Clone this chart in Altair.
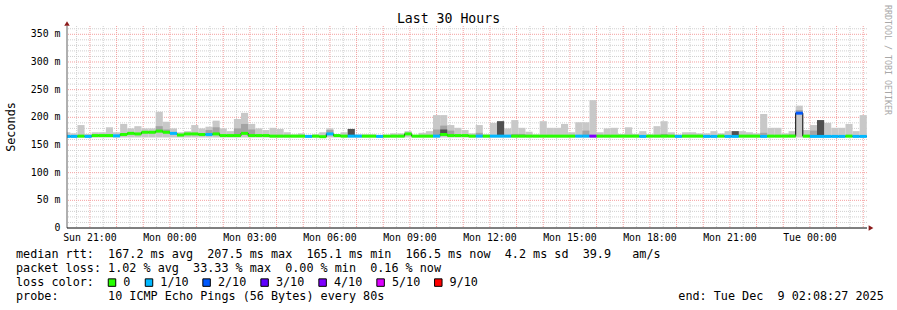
import altair as alt
import pandas as pd

# ---------------- data ----------------
# time in hours since Sun Dec 7 2025 00:00
START_H = 20 + 8 / 60 + 27 / 3600      # Sun 20:08:27
END_H = START_H + 30                   # Tue 02:08:27
STEP_H = 16 / 60                       # 960 s consolidation step
FIRST_BAR_H = 20.0
SMOKE_FLOOR = 163.5

smoke_top = [173, 171, 186, 170, 173, 173, 182, 173, 188, 180,
             184, 180, 180, 210, 192, 180, 173, 175, 186, 180,
             183, 194, 180, 175, 197, 208, 188, 180, 177, 181,
             179, 173, 169, 171, 168, 169, 173, 180, 169, 173,
             179, 169, 169, 169, 168, 167, 171, 171, 175, 168,
             172, 175, 204, 204, 186, 181, 177, 171, 186, 169,
             190, 193, 180, 195, 181, 174, 169, 193, 181, 181,
             188, 173, 191, 191, 231, 173, 180, 181, 170, 182,
             170, 175, 169, 184, 193, 173, 169, 173, 173, 171,
             171, 175, 171, 175, 175, 175, 173, 171, 206, 181,
             181, 171, 175, 221, 177, 186, 195, 190, 181, 181,
             188, 175, 204]

smoke_mid = [None, None, None, None, None, None, None, None, None, None,
             None, None, 175, 184, 178, None, None, None, None, None,
             177, 182, None, None, 180, 188, 178, None, None, None,
             None, None, None, None, None, None, None, 177, None, None,
             None, None, None, None, None, None, None, None, None, None,
             None, None, 178, 185, 176, None, None, None, 172, None,
             None, None, None, 170, 170, None, None, None, None, None,
             None, None, None, 176, None, None, None, None, None, None,
             None, None, None, None, 170, None, None, None, None, None,
             None, None, None, None, None, None, None, None, 172, None,
             None, None, 169, 213, None, 176, None, None, None, None,
             None, None, None]

smoke_dark = [None] * 113
for _i, _v in [(40, 179), (53, 178), (61, 193), (94, 175), (106, 195)]:
    smoke_dark[_i] = _v

median_rtt = [165.5, 165.5, 166, 165.5, 167, 167, 167, 166.5, 169, 171,
              170, 173, 173, 175, 173, 171, 168, 170, 170, 169,
              169, 170, 167, 167, 167, 171, 167, 167, 167, 166,
              166, 166, 166, 166, 165.5, 166, 165, 170, 167, 166,
              166, 166, 166, 166, 165.5, 166, 166, 166, 170, 166,
              166, 166, 166, 169, 167, 167, 167, 166, 166, 166,
              166, 166, 166, 166, 166, 166, 166, 166, 166, 166,
              166, 166, 166, 166, 166, 166, 166, 166, 166, 166,
              166, 165.5, 166, 166, 166, 166, 165.5, 166, 166, 166,
              165.5, 165.5, 166, 165.5, 165.5, 166, 166, 166, 165.5, 166,
              166, 166, 166, 207.5, 166, 165.5, 165.5, 165.5, 165.5, 165.5,
              166, 165.5, 165.5]

loss_idx = [1, 1, 0, 1, 0, 0, 0, 1, 0, 0,
            0, 0, 0, 0, 0, 1, 0, 0, 0, 0,
            1, 0, 0, 0, 0, 0, 0, 0, 0, 0,
            0, 0, 0, 0, 1, 0, 0, 1, 0, 0,
            1, 1, 0, 0, 1, 0, 0, 0, 0, 0,
            0, 0, 1, 0, 0, 0, 0, 0, 1, 0,
            1, 1, 1, 0, 0, 0, 0, 0, 0, 0,
            0, 0, 1, 1, 4, 0, 0, 0, 0, 0,
            0, 1, 0, 0, 0, 0, 1, 0, 0, 0,
            1, 1, 0, 1, 1, 0, 0, 0, 1, 0,
            0, 0, 0, 2, 0, 1, 1, 1, 1, 1,
            0, 1, 1]

loss_labels = ["0", "1/10", "2/10", "3/10", "4/10", "5/10", "9/10"]
loss_colors = ["#26ff00", "#00b8ff", "#0059ff", "#5e00ff", "#7e00ff", "#dd00ff", "#ff0000"]

x_label_hours = [21, 24, 27, 30, 33, 36, 39, 42, 45, 48]
x_labels = ["Sun 21:00", "Mon 00:00", "Mon 03:00", "Mon 06:00", "Mon 09:00",
            "Mon 12:00", "Mon 15:00", "Mon 18:00", "Mon 21:00", "Tue 00:00"]
y_tick_values = [0, 50, 100, 150, 200, 250, 300, 350]
y_tick_labels = ["0", "50 m", "100 m", "150 m", "200 m", "250 m", "300 m", "350 m"]
Y_MAX = 365

title_text = "Last 30 Hours"
y_title = "Seconds"
watermark = "RRDTOOL / TOBI OETIKER"
line_rtt = "median rtt:  167.2 ms avg  207.5 ms max  165.1 ms min  166.5 ms now  4.2 ms sd  39.9   am/s"
line_loss = "packet loss: 1.02 % avg  33.33 % max  0.00 % min  0.16 % now"
line_color = "loss color:"
line_probe = "probe:       10 ICMP Echo Pings (56 Bytes) every 80s"
line_end = "end: Tue Dec  9 02:08:27 2025"

# ---------------- tables ----------------
n = len(smoke_top)
t_start = [FIRST_BAR_H + k * STEP_H for k in range(n)]
t_end = [t + STEP_H for t in t_start]
bars = pd.DataFrame({
    "t0": t_start, "t1": t_end,
    "lo": [SMOKE_FLOOR] * n,
    "top": smoke_top, "mid": smoke_mid, "dark": smoke_dark,
    "median": median_rtt,
    "loss": [loss_labels[k] for k in loss_idx],
})
step_df = pd.DataFrame({"t": t_start + [t_end[-1]], "m": median_rtt + [median_rtt[-1]]})

grid_y_minor = pd.DataFrame({"v": [v for v in range(10, 361, 10) if v % 50]})
grid_y_major = pd.DataFrame({"v": [v for v in y_tick_values if v > 0]})
grid_x_minor = pd.DataFrame({"v": [h + 0.5 for h in range(20, 50)]})
grid_x_major = pd.DataFrame({"v": list(range(21, 51))})
xlab = pd.DataFrame({"h": x_label_hours, "t": x_labels})
ylab = pd.DataFrame({"v": y_tick_values, "t": y_tick_labels})

FONT = "DejaVu Sans Mono"
xs = alt.Scale(domain=[START_H, END_H], nice=False, zero=False)
ys = alt.Scale(domain=[0, Y_MAX], nice=False, zero=True)
loss_scale = alt.Scale(domain=loss_labels, range=loss_colors)


def X(f):
    return alt.X(f, scale=xs, axis=None)


def Y(f):
    return alt.Y(f, scale=ys, axis=None)


minor_style = dict(color="#d0d0d0", strokeDash=[1, 1], strokeWidth=1)
major_style = dict(color="#f4a0a0", strokeDash=[1, 1], strokeWidth=1)

g1 = alt.Chart(grid_y_minor).mark_rule(**minor_style).encode(y=Y("v:Q"))
g2 = alt.Chart(grid_x_minor).mark_rule(**minor_style).encode(x=X("v:Q"))
g3 = alt.Chart(grid_y_major).mark_rule(**major_style).encode(y=Y("v:Q"))
g4 = alt.Chart(grid_x_major).mark_rule(**major_style).encode(x=X("v:Q"))

base = alt.Chart(bars)
smoke = base.mark_rect(clip=True, color="#c8c8c8").encode(
    x=X("t0:Q"), x2="t1:Q", y=Y("lo:Q"), y2="top:Q")
smoke_m = base.mark_rect(clip=True, color="#a4a4a4").encode(
    x=X("t0:Q"), x2="t1:Q", y=Y("median:Q"), y2="mid:Q")
smoke_d = base.mark_rect(clip=True, color="#505050").encode(
    x=X("t0:Q"), x2="t1:Q", y=Y("median:Q"), y2="dark:Q")
step_line = alt.Chart(step_df).mark_line(clip=True, interpolate="step-after", color="#000000",
                                         strokeWidth=1).encode(x=X("t:Q"), y=Y("m:Q"))
med = base.mark_rule(clip=True, strokeWidth=3, strokeCap="butt").encode(
    x=X("t0:Q"), x2="t1:Q", y=Y("median:Q"),
    color=alt.Color("loss:N", scale=loss_scale, legend=None))

# axis lines and arrows
axes_df = pd.DataFrame({"x0": [START_H], "x1": [END_H], "y0": [0], "y1": [Y_MAX]})
ax_y = alt.Chart(axes_df).mark_rule(color="#606060", strokeWidth=1).encode(
    x=X("x0:Q"), y=Y("y0:Q"), y2="y1:Q")
ax_x = alt.Chart(axes_df).mark_rule(color="#000000", strokeWidth=1).encode(
    x=X("x0:Q"), x2="x1:Q", y=Y("y0:Q"))
arrow_up = alt.Chart(axes_df).mark_point(shape="triangle-up", filled=True, size=30,
                                          color="#8b1a1a", opacity=1, yOffset=-2.5).encode(
    x=X("x0:Q"), y=Y("y1:Q"))
arrow_rt = alt.Chart(axes_df).mark_point(shape="triangle-right", filled=True, size=30,
                                          color="#8b1a1a", opacity=1, xOffset=4).encode(
    x=X("x1:Q"), y=Y("y0:Q"))

# tick labels from the data arrays, through the scales
x_text = alt.Chart(xlab).mark_text(font=FONT, fontSize=9.9, align="center", baseline="middle",
                                   color="#000000").encode(
    x=X("h:Q"), y=alt.value(237.6 - 26), text="t:N")
y_text = alt.Chart(ylab).mark_text(font=FONT, fontSize=9.9, align="right", baseline="middle",
                                   color="#000000").encode(
    y=Y("v:Q"), x=alt.value(60.5 - 67), text="t:N")

one = pd.DataFrame({"k": [0]})
NBSP = "\u00a0"


def txt(s, x, y, size=11.77, align="left", color="#000000", angle=0):
    return alt.Chart(one).mark_text(text=s.replace(" ", NBSP), font=FONT, fontSize=size,
                                    align=align, baseline="middle", color=color,
                                    angle=angle).encode(x=alt.value(x), y=alt.value(y))


def box(color, x, y):
    return alt.Chart(one).mark_square(size=56, filled=True, color=color, stroke="#000000",
                                      strokeWidth=1, opacity=1).encode(
        x=alt.value(x), y=alt.value(y))


OX, OY = 67, 26
layers = [
    txt(title_text, 448.5 - OX, 19 - OY, size=13.2, align="center"),
    txt(watermark, 886.5 - OX, 60 - OY, size=8.3, align="center", color="#a8a8a8", angle=90),
    txt(y_title, 11 - OX, 127 - OY, size=11.8, align="center", angle=270),
    txt(line_rtt, 16 - OX, 254.3 - OY),
    txt(line_loss, 16 - OX, 268.3 - OY),
    txt(line_color, 16 - OX, 282.3 - OY),
    txt(line_probe, 16 - OX, 296.3 - OY),
    txt(line_end, 678.3 - OX, 296.3 - OY),
]

box_x = [108.7, 145.7, 203.3, 261.3, 319.3, 377.3, 435.0]
for lab, col, bx in zip(loss_labels, loss_colors, box_x):
    layers.append(box(col, bx - OX + 3.3, 282.6 - OY))
    layers.append(txt(lab, bx - OX + 14.6, 282.3 - OY))

chart = alt.layer(g1, g2, g3, g4, smoke, smoke_m, smoke_d, step_line, med,
                  ax_y, ax_x, arrow_up, arrow_rt,
                  x_text, y_text, *layers).properties(
    width=800, height=202,
    autosize=alt.AutoSizeParams(type="none"),
    padding={"left": OX, "top": OY, "right": 30, "bottom": 82},
    background="#ffffff",
).configure_view(stroke=None)

chart.save("out.html", embed_options={"renderer": "svg", "actions": False})
